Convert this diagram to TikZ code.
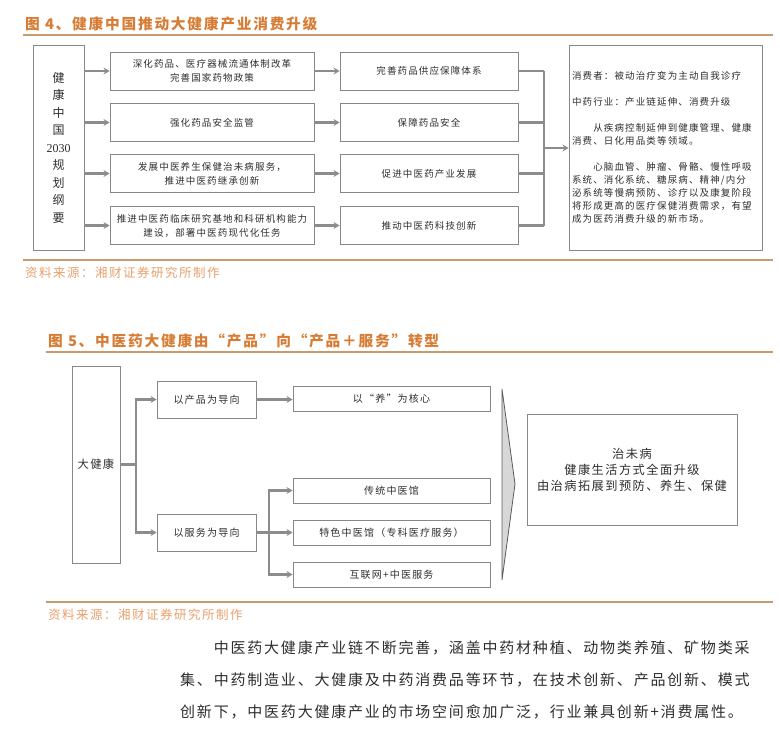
\documentclass[tikz,border=0pt]{standalone}
\usepackage{fontspec}
\setmainfont{Noto Sans CJK SC}[LetterSpace=12]
\newfontfamily\numfont{Liberation Serif}
\usetikzlibrary{arrows.meta}
\definecolor{titlecol}{RGB}{214,124,52}
\definecolor{rulecol}{RGB}{200,155,110}
\definecolor{srccol}{RGB}{232,160,110}
\definecolor{boxgray}{RGB}{135,135,135}
\definecolor{conngray}{RGB}{140,140,140}
\definecolor{txt}{RGB}{45,45,45}

\begin{document}
\begin{tikzpicture}[x=1pt, y=-1pt,
    box/.style={draw=boxgray, line width=0.9pt, text=txt, align=center, inner sep=0pt,
      font=\fontsize{9.5}{14}\selectfont},
    conn/.style={draw=conngray, line width=2.8pt, -{Stealth[length=6pt,width=7pt]}},
    bus/.style={draw=conngray, line width=2.8pt},
    rule/.style={draw=rulecol, line width=1.4pt},
    title/.style={anchor=west, inner sep=0pt, text=titlecol, font=\fontsize{14.7}{16}\selectfont\bfseries},
    source/.style={anchor=west, inner sep=0pt, text=srccol, font=\fontsize{12.5}{14}\selectfont}]
    \useasboundingbox (0,0) rectangle (780,750);

    % Figure 4
    \node[title] (t4) at (25,24) {图 4、健康中国推动大健康产业消费升级};
    \draw[rule] (23,35) -- (773,35);

    \node[box, minimum width=51, minimum height=205, font=\fontsize{12}{17.5}\selectfont] (plan) at (58.5,147.5)
      {健\\康\\中\\国\\{\numfont 2030}\\规\\划\\纲\\要};

    \node[box, minimum width=204, minimum height=38] (m1) at (212,71) {深化药品、医疗器械流通体制改革\\完善国家药物政策};
    \node[box, minimum width=204, minimum height=38] (m2) at (212,122.5) {强化药品安全监管};
    \node[box, minimum width=204, minimum height=38] (m3) at (212,173.5) {发展中医养生保健治未病服务，\\推进中医药继承创新};
    \node[box, minimum width=204, minimum height=38] (m4) at (212,225.5) {推进中医药临床研究基地和科研机构能力\\建设，部署中医药现代化任务};

    \node[box, minimum width=178, minimum height=38] (r1) at (429,71) {完善药品供应保障体系};
    \node[box, minimum width=178, minimum height=38] (r2) at (429,122.5) {保障药品安全};
    \node[box, minimum width=178, minimum height=38] (r3) at (429,173.5) {促进中医药产业发展};
    \node[box, minimum width=178, minimum height=38] (r4) at (429,225.5) {推动中医药科技创新};

    \node[box, align=left, text width=187, inner sep=3pt, minimum height=205,
      font=\fontsize{9.5}{13}\selectfont] (effect) at (665.5,147.5)
      {消费者：被动治疗变为主动自我诊疗\\[13pt]
       中药行业：产业链延伸、消费升级\\[13pt]
       　　从疾病控制延伸到健康管理、健康\\
       消费、日化用品类等领域。\\[13pt]
       　　心脑血管、肿瘤、骨骼、慢性呼吸\\
       系统、消化系统、糖尿病、精神/内分\\
       泌系统等慢病预防、诊疗以及康复阶段\\
       将形成更高的医疗保健消费需求，有望\\
       成为医药消费升级的新市场。};

    \coordinate (hub) at (544,148);

    % Arrows
    \foreach \i in {1,...,4} {
      \draw[conn] (plan.east |- m\i.west) -- (m\i.west);
      \draw[conn] (m\i.east) -- (r\i.west);
      \draw[bus] (r\i.east) -- (r\i.east -| hub);
    }
    \draw[bus] (r1.east -| hub) -- (r4.east -| hub);
    \draw[conn] (hub) -- (effect.west |- hub);

    \draw[rule] (23,260) -- (773,260);
    \node[source] (s4) at (25,273) {资料来源：湘财证券研究所制作};

    % Figure 5
    \node[title] (t5) at (48,341) {图 5、中医药大健康由“产品”向“产品＋服务”转型};
    \draw[rule] (46,352) -- (773,352);

    \node[box, minimum width=48, minimum height=197, font=\fontsize{11.3}{14}\selectfont] (jk) at (96,464.5) {大健康};

    \node[box, minimum width=99, minimum height=37, font=\fontsize{10}{14}\selectfont] (prod) at (206.5,399.5) {以产品为导向};
    \node[box, minimum width=99, minimum height=37, font=\fontsize{10}{14}\selectfont] (serv) at (206.5,532.5) {以服务为导向};

    \node[box, minimum width=197, minimum height=25, font=\fontsize{10}{14}\selectfont] (core) at (391.5,398.5) {以“养”为核心};
    \node[box, minimum width=197, minimum height=25, font=\fontsize{10}{14}\selectfont] (tcm1) at (391.5,490.5) {传统中医馆};
    \node[box, minimum width=197, minimum height=25, font=\fontsize{10}{14}\selectfont] (tcm2) at (391.5,532.5) {特色中医馆（专科医疗服务）};
    \node[box, minimum width=197, minimum height=25, font=\fontsize{10}{14}\selectfont] (tcm3) at (391.5,574.5) {互联网+中医服务};

    \draw[draw={rgb,255:red,90;green,90;blue,90}, fill={rgb,255:red,215;green,215;blue,215}, line width=0.8pt]
      (502,389) -- (515,484) -- (502,580) -- cycle;

    \node[box, minimum width=210, minimum height=111, font=\fontsize{12.2}{16}\selectfont] (goal) at (632,469.5)
      {治未病\\健康生活方式全面升级\\由治病拓展到预防、养生、保健};

    \coordinate (split1) at (136,464.5);
    \coordinate (split2) at (269,532.5);

    % Branches
    \draw[bus] (jk.east) -- (split1);
    \draw[conn] (split1) |- (prod.west);
    \draw[conn] (split1) |- (serv.west);
    \draw[conn] (prod.east) -- (prod.east -| core.west);
    \draw[bus] (serv.east) -- (split2);
    \draw[conn] (split2) |- (tcm1.west);
    \draw[conn] (split2) -- (tcm2.west);
    \draw[conn] (split2) |- (tcm3.west);

    \draw[rule] (46,602) -- (773,602);
    \node[source] (s5) at (48,615) {资料来源：湘财证券研究所制作};

    % Body text
    \node[anchor=west, inner sep=0pt, text=txt, font=\fontsize{15}{18}\selectfont] (p1) at (180,648)
      {　　中医药大健康产业链不断完善，涵盖中药材种植、动物类养殖、矿物类采};
    \node[anchor=west, inner sep=0pt, text=txt, font=\fontsize{15}{18}\selectfont] (p2) at (180,680)
      {集、中药制造业、大健康及中药消费品等环节，在技术创新、产品创新、模式};
    \node[anchor=west, inner sep=0pt, text=txt, font=\fontsize{15}{18}\selectfont] (p3) at (180,712)
      {创新下，中医药大健康产业的市场空间愈加广泛，行业兼具创新+消费属性。};
\end{tikzpicture}
\end{document}
